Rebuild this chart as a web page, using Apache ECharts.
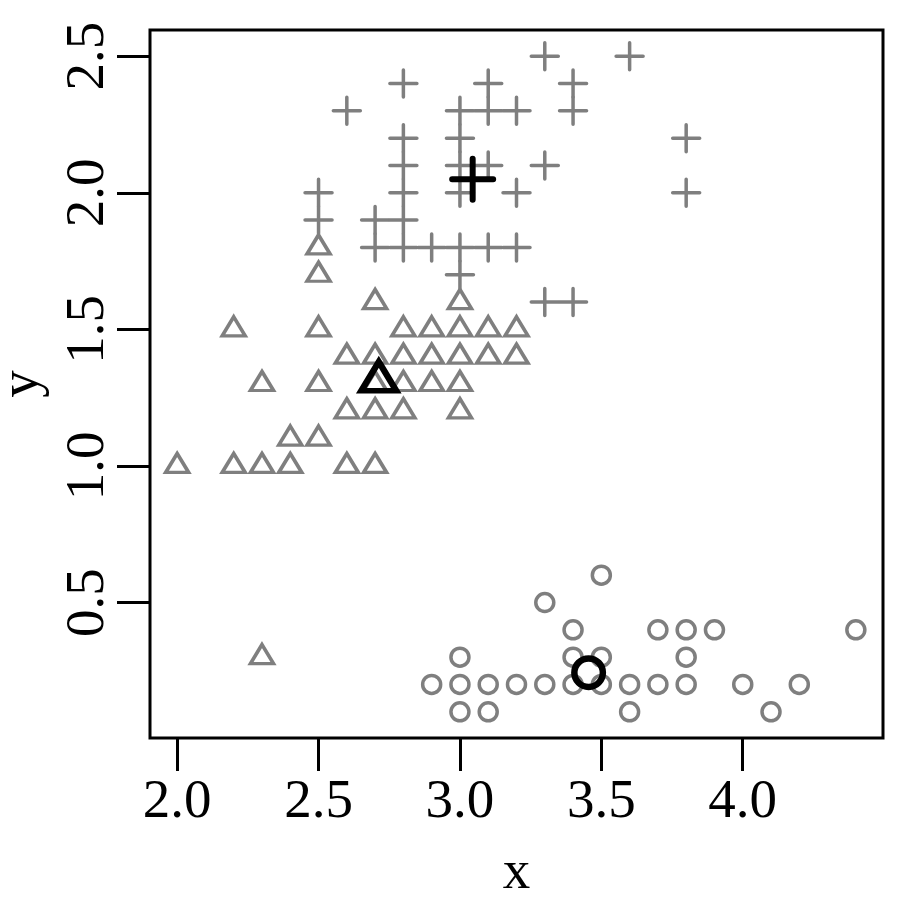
<!DOCTYPE html>
<html>
<head>
<meta charset="utf-8">
<script src="https://cdn.jsdelivr.net/npm/echarts@6/dist/echarts.min.js"></script>
<style>
  html, body { margin: 0; padding: 0; background: #fff; }
  #chart { width: 900px; height: 900px; }
</style>
</head>
<body>
<div id="chart"></div>
<script>
// cluster 1 (circles)
const circleX = [3.5, 3.3, 3.4, 3.7, 3.8, 3.9, 4.4, 3.0, 3.4, 3.5, 3.8,
  2.9, 3.0, 3.1, 3.2, 3.3, 3.4, 3.5, 3.6, 3.7, 3.8, 4.0, 4.2, 3.0, 3.1, 3.6, 4.1];
const circleY = [0.6, 0.5, 0.4, 0.4, 0.4, 0.4, 0.4, 0.3, 0.3, 0.3, 0.3,
  0.2, 0.2, 0.2, 0.2, 0.2, 0.2, 0.2, 0.2, 0.2, 0.2, 0.2, 0.2, 0.1, 0.1, 0.1, 0.1];

// cluster 2 (triangles)
const triX = [2.5, 2.5, 2.7, 3.0,
  2.2, 2.5, 2.8, 2.9, 3.0, 3.1, 3.2,
  2.6, 2.7, 2.8, 2.9, 3.0, 3.1, 3.2,
  2.3, 2.5, 2.7, 2.8, 2.9, 3.0,
  2.6, 2.7, 2.8, 3.0,
  2.4, 2.5,
  2.0, 2.2, 2.3, 2.4, 2.6, 2.7,
  2.3];
const triY = [1.8, 1.7, 1.6, 1.6,
  1.5, 1.5, 1.5, 1.5, 1.5, 1.5, 1.5,
  1.4, 1.4, 1.4, 1.4, 1.4, 1.4, 1.4,
  1.3, 1.3, 1.3, 1.3, 1.3, 1.3,
  1.2, 1.2, 1.2, 1.2,
  1.1, 1.1,
  1.0, 1.0, 1.0, 1.0, 1.0, 1.0,
  0.3];

// cluster 3 (plus)
const plusX = [3.3, 3.6,
  2.8, 3.1, 3.4,
  2.6, 3.0, 3.1, 3.2, 3.4,
  2.8, 3.0, 3.8,
  2.8, 3.0, 3.1, 3.3,
  2.5, 2.8, 3.0, 3.2, 3.8,
  2.5, 2.7, 2.8,
  2.7, 2.8, 2.9, 3.0, 3.1, 3.2,
  3.0,
  3.3, 3.4];
const plusY = [2.5, 2.5,
  2.4, 2.4, 2.4,
  2.3, 2.3, 2.3, 2.3, 2.3,
  2.2, 2.2, 2.2,
  2.1, 2.1, 2.1, 2.1,
  2.0, 2.0, 2.0, 2.0, 2.0,
  1.9, 1.9, 1.9,
  1.8, 1.8, 1.8, 1.8, 1.8, 1.8,
  1.7,
  1.6, 1.6];

// cluster centres
const circleCenter = [3.455, 0.243];
const triCenter = [2.713, 1.31];
const plusCenter = [3.045, 2.05];

const xTicks = [2.0, 2.5, 3.0, 3.5, 4.0];
const yTicks = [0.5, 1.0, 1.5, 2.0, 2.5];

const zip = (xs, ys) => xs.map((x, i) => [x, ys[i]]);

const gray = "#7f7f7f";
const plusPath = "path://M0,-1L0,1M-1,0L1,0";
const font = "'Liberation Serif', 'Times New Roman', serif";

const chart = echarts.init(document.getElementById("chart"));

chart.setOption({
  animation: false,
  backgroundColor: "#fff",
  grid: {
    left: 150,
    right: 17,
    top: 30,
    bottom: 162,
    show: true,
    borderColor: "#000",
    borderWidth: 3,
    outerBoundsMode: "none",
  },
  xAxis: {
    type: "value",
    min: 1.904,
    max: 4.496,
    name: "x",
    nameLocation: "middle",
    nameGap: 108,
    nameTextStyle: { fontFamily: font, fontSize: 55, color: "#000" },
    axisLine: { show: false },
    splitLine: { show: false },
    axisTick: {
      show: true,
      length: 33,
      customValues: xTicks,
      lineStyle: { color: "#000", width: 3 },
    },
    axisLabel: {
      customValues: xTicks,
      margin: 37,
      fontFamily: font,
      fontSize: 55,
      color: "#000",
      formatter: (v) => v.toFixed(1),
    },
  },
  yAxis: {
    type: "value",
    min: 0.004,
    max: 2.596,
    name: "y",
    nameLocation: "middle",
    nameGap: 100,
    nameTextStyle: { fontFamily: font, fontSize: 55, color: "#000" },
    axisLine: { show: false },
    splitLine: { show: false },
    axisTick: {
      show: true,
      length: 33,
      customValues: yTicks,
      lineStyle: { color: "#000", width: 3 },
    },
    axisLabel: {
      customValues: yTicks,
      rotate: 90,
      margin: 34,
      fontFamily: font,
      fontSize: 55,
      color: "#000",
      formatter: (v) => v.toFixed(1),
    },
  },
  series: [
    {
      name: "cluster 1",
      type: "scatter",
      data: zip(circleX, circleY),
      symbol: "circle",
      symbolSize: 18,
      itemStyle: { color: "rgba(0,0,0,0)", borderColor: gray, borderWidth: 3.5, opacity: 1 },
    },
    {
      name: "cluster 2",
      type: "scatter",
      data: zip(triX, triY),
      symbol: "triangle",
      symbolSize: [23, 19],
      symbolOffset: [0, -3],
      itemStyle: { color: "rgba(0,0,0,0)", borderColor: gray, borderWidth: 3.5, borderJoin: "miter", opacity: 1 },
    },
    {
      name: "cluster 3",
      type: "scatter",
      data: zip(plusX, plusY),
      symbol: plusPath,
      symbolSize: 27,
      itemStyle: { color: "rgba(0,0,0,0)", borderColor: gray, borderWidth: 3.5, borderCap: "round", opacity: 1 },
    },
    {
      name: "centre 1",
      type: "scatter",
      data: [circleCenter],
      symbol: "circle",
      symbolSize: 28.5,
      z: 5,
      itemStyle: { color: "rgba(0,0,0,0)", borderColor: "#000", borderWidth: 6.5, opacity: 1 },
    },
    {
      name: "centre 2",
      type: "scatter",
      data: [triCenter],
      symbol: "triangle",
      symbolSize: [35, 29],
      symbolOffset: [0, -5],
      z: 5,
      itemStyle: { color: "rgba(0,0,0,0)", borderColor: "#000", borderWidth: 6, borderJoin: "miter", opacity: 1 },
    },
    {
      name: "centre 3",
      type: "scatter",
      data: [plusCenter],
      symbol: plusPath,
      symbolSize: 41,
      z: 5,
      itemStyle: { color: "rgba(0,0,0,0)", borderColor: "#000", borderWidth: 6, borderCap: "round", opacity: 1 },
    },
  ],
});
</script>
</body>
</html>
